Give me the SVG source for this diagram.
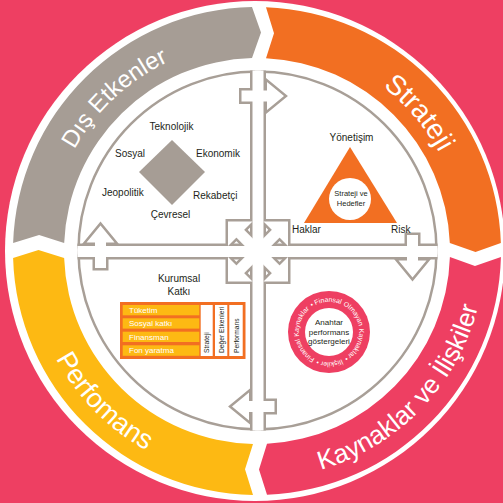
<svg xmlns="http://www.w3.org/2000/svg" width="503" height="503" viewBox="0 0 503 503">
<style>
text{font-family:"Liberation Sans",Arial,Helvetica,sans-serif}
.bt{fill:#fff}
.lbl{font-size:10px;fill:#231f20}
.chanS{fill:none;stroke:#a89f97;stroke-width:5;stroke-linejoin:miter}
.chanF{fill:#fff;stroke:none}
.row{fill:#fdb913}
.rowt{font-size:8px;fill:#fff}
.col{fill:#fff}
.colt{font-size:6.7px;fill:#231f20}
.rt{font-size:6.8px;fill:#fff}
.kpi{font-size:8px;fill:#231f20;text-anchor:middle}
</style>
<defs>
<path id="arcTop" d="M48,251 A209,209 0 0 1 466,251"/>
<path id="arcTop2" d="M50,251 A207,207 0 0 1 464,251"/>
<path id="arcBot" d="M29,251 A228,228 0 0 0 485,251"/>
<path id="ringPath" d="M311.79,307.43 A30,30 0 1 1 346.21,356.57 A30,30 0 1 1 311.79,307.43"/>
<clipPath id="disc"><circle cx="257.5" cy="250.5" r="180.3"/></clipPath>
<g id="chan">
<rect x="252.5" y="60" width="11" height="390"/>
<rect x="65" y="246" width="390" height="11"/>
<polygon points="241.5,90.5 267,90.5 267,82 284,96 267,110 267,101.5 241.5,101.5"/>
<polygon points="407,235 418,235 418,260.5 426.5,260.5 412.5,277.5 398.5,260.5 407,260.5"/>
<polygon points="274.5,401 274.5,412 249,412 249,420.5 232,406.5 249,392.5 249,401"/>
<polygon points="95,268 106,268 106,242.5 114.5,242.5 100.5,225.5 86.5,242.5 95,242.5"/>
<polygon points="228,221.5 252.5,221.5 228,246"/>
<polygon points="288,221.5 263.5,221.5 288,246"/>
<polygon points="228,281.5 252.5,281.5 228,257"/>
<polygon points="288,281.5 263.5,281.5 288,257"/>
<polygon points="242.09,227.81 281.69,267.41 273.91,275.19 234.31,235.59"/>
<polygon points="273.91,227.81 281.69,235.59 242.09,275.19 234.31,267.41"/>
</g>
</defs>
<rect width="503" height="503" fill="#ee3f62"/>
<circle cx="255" cy="251" r="250" fill="#fff"/>
<g id="ring-bands">
<g id="dis-etkenler">
<path fill="#a69d95" d="M252,7.05 L261,32.54 L252,58.06 A193,193 0 0 0 64.17,243 L39.09,235 L13.13,243 A244,244 0 0 1 252,7.05 Z"/>
<text class="bt" font-size="24"><textPath href="#arcTop" startOffset="171.4" text-anchor="middle">Dış Etkenler</textPath></text>
</g>
<g id="strateji">
<path fill="#f26f22" d="M266,7.17 A244,244 0 0 1 500.87,243 L475.5,252 L449.83,243 A193,193 0 0 0 266,58.21 L274,33.16 Z"/>
<text class="bt" font-size="28"><textPath href="#arcTop2" startOffset="504" text-anchor="middle">Strateji</textPath></text>
</g>
<g id="kaynaklar">
<path fill="#ee3f62" d="M500.93,257 A244,244 0 0 1 267,494.79 L259,469.49 L267,443.74 A193,193 0 0 0 449.91,257 L474.98,266 Z"/>
<text class="bt" font-size="26"><textPath href="#arcBot" startOffset="541.2" text-anchor="middle">Kaynaklar ve İlişkiler</textPath></text>
</g>
<g id="perfomans">
<path fill="#fdb913" d="M253,494.97 A244,244 0 0 1 13.1,258 L38.5,250 L64.13,258 A193,193 0 0 0 253,443.96 L245,469.17 Z"/>
<text class="bt" font-size="27"><textPath href="#arcBot" startOffset="177.1" text-anchor="middle">Perfomans</textPath></text>
</g>
</g>
<g id="connectors">
<circle cx="257.5" cy="250.5" r="179" fill="#fff" stroke="#a89f97" stroke-width="2.5"/>
<g clip-path="url(#disc)">
<use href="#chan" class="chanS"/>
<use href="#chan" class="chanF"/>
</g>
</g>
<g id="q-dis-etkenler">
<polygon points="172,140 205,172 172,205 139,172" fill="#a69d95"/>
<text class="lbl" x="171.5" y="130" text-anchor="middle">Teknolojik</text>
<text class="lbl" x="115" y="157">Sosyal</text>
<text class="lbl" x="196" y="157">Ekonomik</text>
<text class="lbl" x="102" y="196">Jeopolitik</text>
<text class="lbl" x="193" y="199">Rekabetçi</text>
<text class="lbl" x="170.5" y="218" text-anchor="middle">Çevresel</text>
</g>
<g id="q-strateji">
<text class="lbl" x="351.5" y="141" text-anchor="middle">Yönetişim</text>
<polygon points="350,147 304,223 397,223" fill="#f26f22"/>
<circle cx="350" cy="199" r="21" fill="#fff"/>
<text x="351" y="196" font-size="7.5" fill="#231f20" text-anchor="middle">Strateji ve</text>
<text x="351" y="206" font-size="7.5" fill="#231f20" text-anchor="middle">Hedefler</text>
<text class="lbl" x="292" y="233">Haklar</text>
<text class="lbl" x="391" y="233">Risk</text>
</g>
<g id="q-performans">
<text class="lbl" x="179" y="282" text-anchor="middle">Kurumsal</text>
<text class="lbl" x="179" y="295" text-anchor="middle">Katkı</text>
<rect x="120" y="302" width="125.5" height="57" fill="#f26f22"/>
<rect class="row" x="122.7" y="305" width="76.6" height="10.3"/>
<rect class="row" x="122.7" y="318.3" width="76.6" height="10.3"/>
<rect class="row" x="122.7" y="331.7" width="76.6" height="10.3"/>
<rect class="row" x="122.7" y="345.3" width="76.6" height="10.5"/>
<text class="rowt" x="129" y="313">Tüketim</text>
<text class="rowt" x="129" y="326.3">Sosyal katkı</text>
<text class="rowt" x="129" y="339.7">Finansman</text>
<text class="rowt" x="129" y="353.3">Fon yaratma</text>
<rect class="col" x="200.7" y="305" width="12" height="51"/>
<rect class="col" x="215" y="305" width="12.3" height="51"/>
<rect class="col" x="229.3" y="305" width="13.4" height="51"/>
<text class="colt" transform="translate(209.3,353) rotate(-90)">Strateji</text>
<text class="colt" transform="translate(223.7,353) rotate(-90)">Değer Etkenleri</text>
<text class="colt" transform="translate(238.5,353) rotate(-90)">Performans</text>
</g>
<g id="q-kaynaklar">
<circle cx="329" cy="332" r="41" fill="#ee3f62"/>
<circle cx="329" cy="332" r="24" fill="#fff"/>
<text class="rt"><textPath href="#ringPath" startOffset="0.3">• Finansal</textPath></text>
<text class="rt"><textPath href="#ringPath" startOffset="32.8">Olmayan</textPath></text>
<text class="rt"><textPath href="#ringPath" startOffset="62.5">Kaynaklar •</textPath></text>
<text class="rt"><textPath href="#ringPath" startOffset="99.9">İlişkiler •</textPath></text>
<text class="rt"><textPath href="#ringPath" startOffset="127.8">Finansal</textPath></text>
<text class="rt"><textPath href="#ringPath" startOffset="155.9">Kaynaklar</textPath></text>
<text class="kpi" x="329" y="325">Anahtar</text>
<text class="kpi" x="329" y="334.5">performans</text>
<text class="kpi" x="329" y="344">göstergeleri</text>
</g>
</svg>
